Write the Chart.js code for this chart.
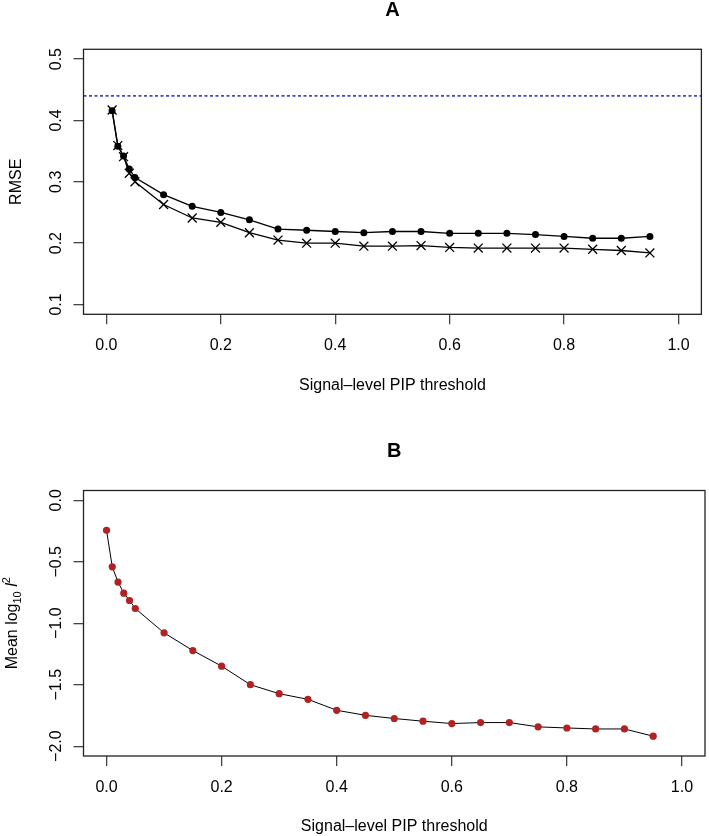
<!DOCTYPE html>
<html><head><meta charset="utf-8">
<script src="https://cdn.jsdelivr.net/npm/chart.js@4.4.1/dist/chart.umd.min.js"></script>
<style>
html,body{margin:0;padding:0;background:#fff;}
#wrap{position:relative;width:709px;height:836px;background:#fff;}
canvas{position:absolute;left:0;}
</style></head><body>
<div id="wrap">
<canvas id="cA" width="709" height="418" style="top:0px"></canvas>
<canvas id="cB" width="709" height="418" style="top:418px"></canvas>
</div>
<script>
// ---------- data ----------
const thresholdsA = [0.01,0.02,0.03,0.04,0.05,0.10,0.15,0.20,0.25,0.30,0.35,0.40,0.45,0.50,0.55,0.60,0.65,0.70,0.75,0.80,0.85,0.90,0.95];
const rmseFilled  = [0.416,0.358,0.342,0.321,0.307,0.279,0.260,0.250,0.238,0.223,0.221,0.219,0.217,0.219,0.219,0.216,0.216,0.216,0.214,0.211,0.208,0.208,0.211];
const rmseCross   = [0.417,0.359,0.341,0.314,0.300,0.263,0.241,0.234,0.217,0.205,0.200,0.200,0.195,0.195,0.196,0.193,0.192,0.192,0.192,0.192,0.190,0.188,0.184];
const rmseReference = 0.44;

const thresholdsB = [0.00,0.01,0.02,0.03,0.04,0.05,0.10,0.15,0.20,0.25,0.30,0.35,0.40,0.45,0.50,0.55,0.60,0.65,0.70,0.75,0.80,0.85,0.90,0.95];
const meanLogL2   = [-0.244,-0.541,-0.665,-0.755,-0.815,-0.880,-1.078,-1.222,-1.349,-1.500,-1.573,-1.619,-1.708,-1.749,-1.775,-1.797,-1.816,-1.808,-1.808,-1.843,-1.852,-1.860,-1.860,-1.919];

const xTickValues  = [0, 0.2, 0.4, 0.6, 0.8, 1.0];
const yTickValuesA = [0.1, 0.2, 0.3, 0.4, 0.5];
const yTickValuesB = [0, -0.5, -1, -1.5, -2];
const xLimits  = [-0.04, 1.04];
const yLimitsA = [0.084, 0.516];
const yLimitsB = [-2.08, 0.08];

const titleA = 'A', titleB = 'B';
const xAxisTitle = 'Signal\u2013level PIP threshold';
const yAxisTitleA = 'RMSE';
// ---------- helpers ----------
const FAM = '"Liberation Sans", Arial, Helvetica, sans-serif';
Chart.defaults.font.family = FAM;
Chart.defaults.color = '#000';
const fmt = v => { const s = Number(v).toFixed(1); return s.replace('-', '\u2212'); };

function rPlotPlugin(cfg){
  return {
    id: 'rPlot' + cfg.title,
    afterDraw(chart){
      const ctx = chart.ctx, a = chart.chartArea, ys = chart.scales.y;
      const cx = (a.left + a.right) / 2;
      ctx.save();
      // box
      ctx.strokeStyle = '#222'; ctx.lineWidth = 1.3;
      ctx.strokeRect(a.left, a.top, a.right - a.left, a.bottom - a.top);
      // rotated y tick labels
      ctx.fillStyle = '#000';
      ctx.font = '16px ' + FAM;
      ctx.textAlign = 'center'; ctx.textBaseline = 'alphabetic';
      for (const v of cfg.yTicks){
        const p = ys.getPixelForValue(v);
        ctx.save(); ctx.translate(61, p); ctx.rotate(-Math.PI/2);
        ctx.fillText(fmt(v), 0, 0); ctx.restore();
      }
      // main title
      ctx.font = 'bold 20px ' + FAM; ctx.textBaseline = 'middle';
      ctx.fillText(cfg.title, cx, a.top - 39);
      // x title
      ctx.font = '16px ' + FAM;
      ctx.fillText(xAxisTitle, cx, a.bottom + 71);
      // y title (rich segments)
      ctx.save();
      ctx.translate(cfg.yTitleX, (a.top + a.bottom) / 2);
      ctx.rotate(-Math.PI/2);
      ctx.textAlign = 'left'; ctx.textBaseline = 'alphabetic';
      const fontOf = s => (s.italic ? 'italic ' : '') + (s.size || 16) + 'px ' + FAM;
      let total = 0;
      for (const s of cfg.yTitle){ ctx.font = fontOf(s); total += ctx.measureText(s.text).width; }
      let xx = -total / 2;
      for (const s of cfg.yTitle){ ctx.font = fontOf(s); ctx.fillText(s.text, xx, s.dy || 0); xx += ctx.measureText(s.text).width; }
      ctx.restore();
      ctx.restore();
    }
  };
}

function scalesFor(yLim, yTicks){
  return {
    x: {
      type: 'linear', min: xLimits[0], max: xLimits[1],
      afterBuildTicks: s => { s.ticks = xTickValues.map(v => ({value: v})); },
      afterFit: s => { s.height = 60; },
      grid: { display: true, drawOnChartArea: false, drawTicks: true, tickLength: 10, color: '#444', lineWidth: 1.3 },
      border: { display: false },
      ticks: { color: '#000', font: { size: 16 }, padding: 11.6, maxRotation: 0, minRotation: 0, autoSkip: false, callback: v => fmt(v) }
    },
    y: {
      type: 'linear', min: yLim[0], max: yLim[1],
      afterBuildTicks: s => { s.ticks = yTicks.map(v => ({value: v})); },
      afterFit: s => { s.width = 83.5; },
      grid: { display: true, drawOnChartArea: false, drawTicks: true, tickLength: 10, color: '#444', lineWidth: 1.3 },
      border: { display: false },
      ticks: { display: false }
    }
  };
}

const common = {
  responsive: false, animation: false, devicePixelRatio: 1,
  plugins: { legend: { display: false }, tooltip: { enabled: false }, title: { display: false } }
};

// ---------- Panel A ----------
new Chart(document.getElementById('cA'), {
  type: 'line',
  data: {
    datasets: [
      { data: thresholdsA.map((x, i) => ({x, y: rmseFilled[i]})),
        borderColor: '#000', borderWidth: 1.3, pointStyle: 'circle', pointRadius: 3.5,
        pointBackgroundColor: '#000', pointBorderColor: '#000', pointBorderWidth: 0 },
      { data: thresholdsA.map((x, i) => ({x, y: rmseCross[i]})),
        borderColor: '#000', borderWidth: 1.3, pointStyle: 'crossRot', pointRadius: 6.3,
        pointBorderColor: '#000', pointBorderWidth: 1.3 },
      { data: xLimits.map(x => ({x, y: rmseReference})),
        borderColor: '#4747c9', borderWidth: 1.6, borderDash: [3, 2.5], pointRadius: 0 }
    ]
  },
  options: Object.assign({}, common, {
    layout: { padding: { left: 0, right: 1.2, top: 49.3, bottom: 418 - 314.3 - 60 } },
    scales: scalesFor(yLimitsA, yTickValuesA)
  }),
  plugins: [rPlotPlugin({ title: titleA, yTicks: yTickValuesA, yTitleX: 21,
    yTitle: [{ text: yAxisTitleA }] })]
});

// ---------- Panel B ----------
new Chart(document.getElementById('cB'), {
  type: 'line',
  data: {
    datasets: [
      { data: thresholdsB.map((x, i) => ({x, y: meanLogL2[i]})),
        borderColor: '#000', borderWidth: 1, pointStyle: 'circle', pointRadius: 3.6,
        pointBackgroundColor: '#b22222', pointBorderColor: '#b22222', pointBorderWidth: 0 }
    ]
  },
  options: Object.assign({}, common, {
    layout: { padding: { left: 0, right: 1.2, top: 72.5, bottom: 418 - 338 - 60 } },
    scales: scalesFor(yLimitsB, yTickValuesB)
  }),
  plugins: [rPlotPlugin({ title: titleB, yTicks: yTickValuesB, yTitleX: 17,
    yTitle: [{ text: 'Mean log' }, { text: '10', size: 11, dy: 4 }, { text: ' ' },
             { text: 'l', italic: true }, { text: '2', size: 11, dy: -7 }] })]
});
</script>
</body></html>
